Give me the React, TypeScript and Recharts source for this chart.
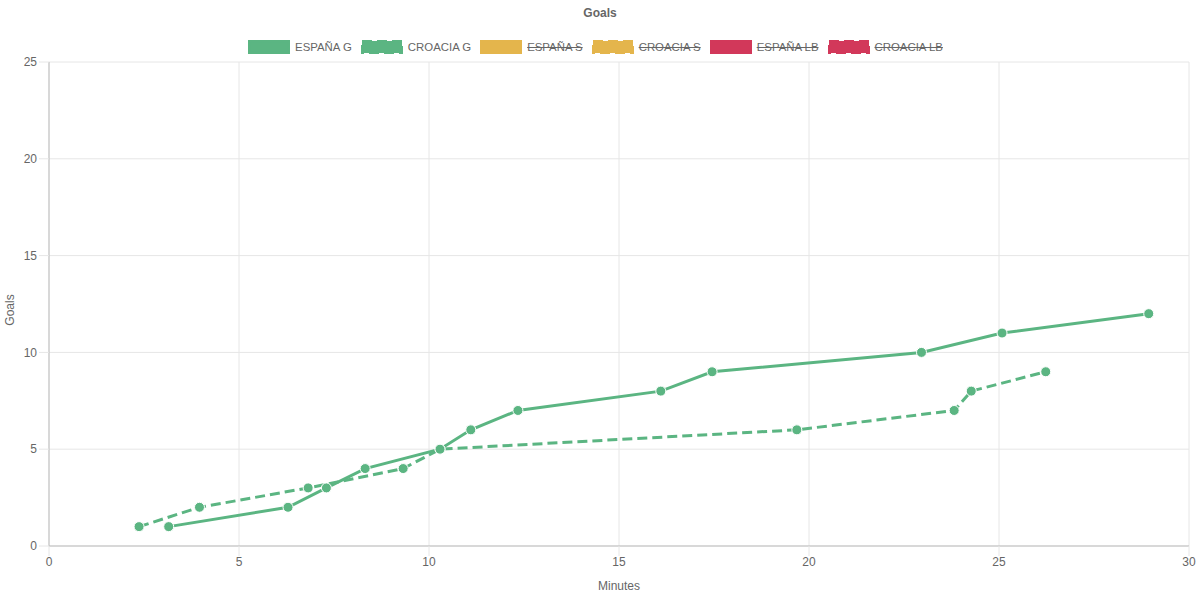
import React from "react";
import { LineChart, Line, XAxis, YAxis, CartesianGrid } from "recharts";

const espanaMinutes = [3.15, 6.29, 7.3, 8.32, 10.29, 11.1, 12.34, 16.1, 17.45, 22.96, 25.08, 28.94];
const espanaGoals = [1, 2, 3, 4, 5, 6, 7, 8, 9, 10, 11, 12];
const croaciaMinutes = [2.37, 3.96, 6.82, 9.32, 10.29, 19.68, 23.82, 24.27, 26.23];
const croaciaGoals = [1, 2, 3, 4, 5, 6, 7, 8, 9];

const xTicks = [0, 5, 10, 15, 20, 25, 30];
const yTicks = [0, 5, 10, 15, 20, 25];

const GREEN = "#5bb582";
const YELLOW = "#e4b54c";
const RED = "#d2385a";

const legendItems = [
  { name: "ESPAÑA G", color: GREEN, dashed: false, hidden: false },
  { name: "CROACIA G", color: GREEN, dashed: true, hidden: false },
  { name: "ESPAÑA S", color: YELLOW, dashed: false, hidden: true },
  { name: "CROACIA S", color: YELLOW, dashed: true, hidden: true },
  { name: "ESPAÑA LB", color: RED, dashed: false, hidden: true },
  { name: "CROACIA LB", color: RED, dashed: true, hidden: true },
];

const espanaData = espanaMinutes.map((m, i) => ({ minute: m, goals: espanaGoals[i] }));
const croaciaData = croaciaMinutes.map((m, i) => ({ minute: m, goals: croaciaGoals[i] }));

const FONT = '"Liberation Sans", Arial, Helvetica, sans-serif';
const TEXT = "#666";

export default function App() {
  return (
    <div style={{ position: "absolute", left: 0, top: 0, width: 1200, height: 596, fontFamily: FONT }}>
      <LineChart width={1200} height={596} margin={{ top: 62, right: 11, bottom: 0, left: 0 }}>
        <CartesianGrid stroke="#e6e6e6" />
        <XAxis
          type="number"
          dataKey="minute"
          domain={[0, 30]}
          ticks={xTicks}
          height={50}
          tickSize={10}
          tickMargin={1}
          stroke="#bdbdbd"
          tickLine={{ stroke: "#e6e6e6" }}
          tick={{ fill: TEXT, fontSize: 12, fontFamily: FONT }}
          allowDuplicatedCategory={false}
        />
        <YAxis
          type="number"
          dataKey="goals"
          domain={[0, 25]}
          ticks={yTicks}
          width={49}
          tickSize={10}
          tickMargin={2}
          stroke="#bdbdbd"
          tickLine={{ stroke: "#e6e6e6" }}
          tick={{ fill: TEXT, fontSize: 12, fontFamily: FONT }}
        />
        <Line
          data={espanaData}
          dataKey="goals"
          name="ESPAÑA G"
          stroke={GREEN}
          strokeWidth={3}
          dot={{ r: 5, fill: GREEN, stroke: "#fff", strokeWidth: 1 }}
          isAnimationActive={false}
        />
        <Line
          data={croaciaData}
          dataKey="goals"
          name="CROACIA G"
          stroke={GREEN}
          strokeWidth={3}
          strokeDasharray="10 5"
          dot={{ r: 5, fill: GREEN, stroke: "#fff", strokeWidth: 1, strokeDasharray: "none" }}
          isAnimationActive={false}
        />
      </LineChart>

      <div style={{ position: "absolute", top: 6, left: 0, width: 1200, textAlign: "center", fontSize: 12, fontWeight: "bold", color: TEXT }}>
        Goals
      </div>

      <div
        style={{
          position: "absolute",
          top: 40,
          left: 0,
          width: 1200,
          display: "flex",
          justifyContent: "center",
          alignItems: "center",
          fontSize: 11.4,
          color: TEXT,
          lineHeight: "14px",
        }}
      >
        {legendItems.map((it) => (
          <div key={it.name} style={{ display: "flex", alignItems: "center", marginRight: 9 }}>
            <svg width={42} height={14} style={{ marginRight: 5 }}>
              <rect
                x={1}
                y={1}
                width={40}
                height={12}
                fill={it.color}
                stroke={it.color}
                strokeWidth={3}
                strokeDasharray={it.dashed ? "10 5" : undefined}
              />
            </svg>
            <span style={{ textDecoration: it.hidden ? "line-through" : "none" }}>{it.name}</span>
          </div>
        ))}
      </div>

      <div
        style={{
          position: "absolute",
          left: 10,
          top: 310,
          fontSize: 12,
          color: TEXT,
          transform: "translate(-50%, -50%) rotate(-90deg)",
          whiteSpace: "nowrap",
        }}
      >
        Goals
      </div>

      <div style={{ position: "absolute", left: 619, top: 586, fontSize: 12, color: TEXT, transform: "translate(-50%, -50%)" }}>
        Minutes
      </div>
    </div>
  );
}
